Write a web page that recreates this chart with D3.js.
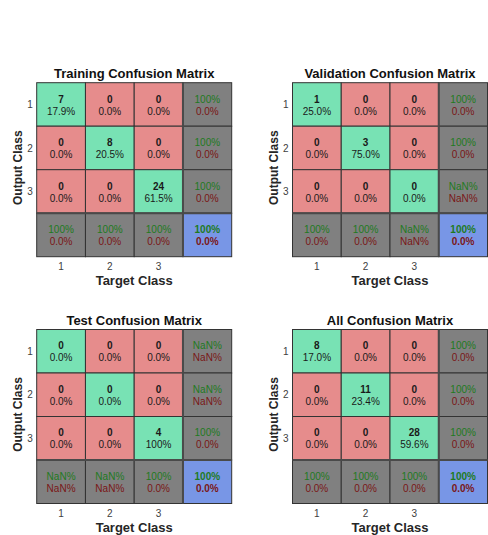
<!DOCTYPE html>
<html>
<head>
<meta charset="utf-8">
<script src="https://cdn.jsdelivr.net/npm/d3@7"></script>
<style>
  body { margin: 0; background: #fff; }
  svg text { font-family: "Liberation Sans", Arial, sans-serif; }
</style>
</head>
<body>
<div id="chart"></div>
<script>
// class labels (tick labels)
const classes = ["1", "2", "3"];

// confusion matrices: rows = output class, cols = target class
const trainingMatrix = [[7, 0, 0], [0, 8, 0], [0, 0, 24]];
const validationMatrix = [[1, 0, 0], [0, 3, 0], [0, 0, 0]];
const testMatrix = [[0, 0, 0], [0, 0, 0], [0, 0, 4]];
const allMatrix = [[8, 0, 0], [0, 11, 0], [0, 0, 28]];

const panelTitles = ["Training Confusion Matrix", "Validation Confusion Matrix",
                     "Test Confusion Matrix", "All Confusion Matrix"];
const panelMatrices = [trainingMatrix, validationMatrix, testMatrix, allMatrix];

const width = 488, height = 535;
const svg = d3.select("#chart").append("svg")
    .attr("width", width)
    .attr("height", height);

// grid positions of each panel
const panelOrigins = [[36.7, 82.7], [292.5, 82.7], [36.7, 329.5], [292.5, 329.5]];
const gridW = 195, gridH = 174;

const colGreen = "#78e2b4", colRed = "#e68c8c", colGray = "#808080", colBlue = "#7896e6";
const txtGreen = "#1e7a1e", txtRed = "#7a1616";

// MATLAB style percentage formatting
function fmtPct(v) {
    if (!isFinite(v)) return "NaN%";
    if (v === 100) return "100%";
    return v.toFixed(1) + "%";
}

panelMatrices.forEach((m, p) => {
    const [ox, oy] = panelOrigins[p];
    const g = svg.append("g").attr("transform", `translate(${ox},${oy})`);
    const keys = classes.concat(["sum"]);

    const x = d3.scaleBand().domain(keys).range([0, gridW]);
    const y = d3.scaleBand().domain(keys).range([0, gridH]);

    const total = d3.sum(m.flat());
    const rowSum = m.map(r => d3.sum(r));
    const colSum = classes.map((c, j) => d3.sum(m, r => r[j]));
    const correct = d3.sum(classes, (c, i) => m[i][i]);

    // build cells
    const cells = [];
    classes.forEach((ci, i) => {
        classes.forEach((cj, j) => {
            const v = m[i][j];
            cells.push({
                row: ci, col: cj, type: i === j ? "diag" : "off",
                line1: String(v), line2: fmtPct(total ? v / total * 100 : 0)
            });
        });
        const acc = rowSum[i] ? m[i][i] / rowSum[i] * 100 : NaN;
        cells.push({ row: ci, col: "sum", type: "sum",
            line1: fmtPct(acc), line2: fmtPct(isFinite(acc) ? 100 - acc : NaN) });
    });
    classes.forEach((cj, j) => {
        const acc = colSum[j] ? m[j][j] / colSum[j] * 100 : NaN;
        cells.push({ row: "sum", col: cj, type: "sum",
            line1: fmtPct(acc), line2: fmtPct(isFinite(acc) ? 100 - acc : NaN) });
    });
    const accAll = total ? correct / total * 100 : NaN;
    cells.push({ row: "sum", col: "sum", type: "total",
        line1: fmtPct(accAll), line2: fmtPct(isFinite(accAll) ? 100 - accAll : NaN) });

    const fill = { diag: colGreen, off: colRed, sum: colGray, total: colBlue };

    g.selectAll("rect.cell")
        .data(cells)
        .enter()
        .append("rect")
        .attr("class", "cell")
        .attr("x", d => x(d.col))
        .attr("y", d => y(d.row))
        .attr("width", x.bandwidth())
        .attr("height", y.bandwidth())
        .attr("fill", d => fill[d.type])
        .attr("stroke", "#333")
        .attr("stroke-width", 1);

    // separators of the summary row / column
    g.append("line")
        .attr("x1", x("sum")).attr("x2", x("sum"))
        .attr("y1", 0).attr("y2", gridH)
        .attr("stroke", "#4a4a4a").attr("stroke-width", 2);
    g.append("line")
        .attr("x1", 0).attr("x2", gridW)
        .attr("y1", y("sum")).attr("y2", y("sum"))
        .attr("stroke", "#4a4a4a").attr("stroke-width", 2);

    const cx = d => x(d.col) + x.bandwidth() / 2;
    const cy = d => y(d.row) + y.bandwidth() / 2;

    g.selectAll("text.l1")
        .data(cells)
        .enter()
        .append("text")
        .attr("class", "l1")
        .attr("x", cx)
        .attr("y", d => cy(d) - 1.8)
        .attr("text-anchor", "middle")
        .attr("font-size", 10)
        .attr("font-weight", d => (d.type === "sum") ? "normal" : "bold")
        .attr("fill", d => (d.type === "sum" || d.type === "total") ? txtGreen : "#1a1a1a")
        .text(d => d.line1);

    g.selectAll("text.l2")
        .data(cells)
        .enter()
        .append("text")
        .attr("class", "l2")
        .attr("x", cx)
        .attr("y", d => cy(d) + 10.2)
        .attr("text-anchor", "middle")
        .attr("font-size", 10)
        .attr("font-weight", d => d.type === "total" ? "bold" : "normal")
        .attr("fill", d => (d.type === "sum" || d.type === "total") ? txtRed : "#1a1a1a")
        .text(d => d.line2);

    // title
    g.append("text")
        .attr("x", gridW / 2)
        .attr("y", -4.7)
        .attr("text-anchor", "middle")
        .attr("font-size", 13)
        .attr("font-weight", "bold")
        .attr("fill", "#111")
        .text(panelTitles[p]);

    // x tick labels
    g.selectAll("text.xtick")
        .data(classes)
        .enter()
        .append("text")
        .attr("class", "xtick")
        .attr("x", d => x(d) + x.bandwidth() / 2)
        .attr("y", gridH + 13.6)
        .attr("text-anchor", "middle")
        .attr("font-size", 10)
        .attr("fill", "#404040")
        .text(d => d);

    // y tick labels
    g.selectAll("text.ytick")
        .data(classes)
        .enter()
        .append("text")
        .attr("class", "ytick")
        .attr("x", -4)
        .attr("y", d => y(d) + y.bandwidth() / 2 + 3.6)
        .attr("text-anchor", "end")
        .attr("font-size", 10)
        .attr("fill", "#404040")
        .text(d => d);

    // axis titles
    g.append("text")
        .attr("x", gridW / 2)
        .attr("y", gridH + 28.7)
        .attr("text-anchor", "middle")
        .attr("font-size", 13)
        .attr("font-weight", "bold")
        .attr("fill", "#262626")
        .text("Target Class");

    g.append("text")
        .attr("transform", `translate(-15,${gridH / 2 - 2}) rotate(-90)`)
        .attr("text-anchor", "middle")
        .attr("font-size", 12)
        .attr("font-weight", "bold")
        .attr("fill", "#262626")
        .text("Output Class");
});
</script>
</body>
</html>
